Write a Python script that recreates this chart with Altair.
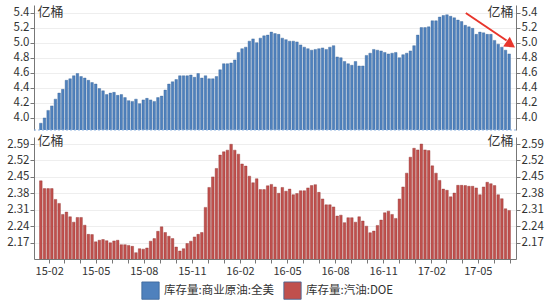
import altair as alt
import pandas as pd

# ---- data, weekly from 2015-01-16 ----
crude = [3.93, 4.00, 4.10, 4.16, 4.25, 4.33, 4.38, 4.50, 4.52, 4.56, 4.59, 4.55, 4.53, 4.50, 4.47, 4.45,
         4.39, 4.36, 4.31, 4.33, 4.34, 4.30, 4.31, 4.27, 4.23, 4.22, 4.25, 4.19, 4.24, 4.26, 4.24, 4.22,
         4.27, 4.29, 4.37, 4.45, 4.48, 4.51, 4.56, 4.56, 4.56, 4.57, 4.54, 4.59, 4.53, 4.56, 4.52, 4.52,
         4.55, 4.64, 4.72, 4.72, 4.73, 4.77, 4.87, 4.92, 4.94, 5.02, 5.05, 5.00, 5.06, 5.09, 5.10, 5.14,
         5.12, 5.11, 5.06, 5.04, 5.02, 5.02, 5.01, 4.97, 4.94, 4.92, 4.90, 4.91, 4.92, 4.93, 4.91, 4.94,
         4.96, 4.81, 4.80, 4.75, 4.72, 4.70, 4.75, 4.69, 4.69, 4.83, 4.86, 4.91, 4.90, 4.89, 4.87, 4.85,
         4.86, 4.87, 4.80, 4.84, 4.86, 4.89, 4.96, 5.10, 5.20, 5.20, 5.21, 5.29, 5.29, 5.34, 5.36, 5.37,
         5.35, 5.33, 5.30, 5.28, 5.23, 5.21, 5.19, 5.11, 5.14, 5.13, 5.11, 5.11, 5.03, 4.98, 4.94, 4.90,
         4.85]
gasoline = [2.433, 2.400, 2.400, 2.400, 2.354, 2.337, 2.290, 2.300, 2.280, 2.257,
            2.277, 2.277, 2.244, 2.205, 2.204, 2.173, 2.180, 2.183, 2.178, 2.169,
            2.177, 2.180, 2.161, 2.161, 2.158, 2.154, 2.127, 2.144, 2.142, 2.147,
            2.176, 2.187, 2.218, 2.237, 2.213, 2.197, 2.187, 2.151, 2.134, 2.144,
            2.166, 2.176, 2.194, 2.205, 2.213, 2.320, 2.405, 2.450, 2.486, 2.543,
            2.557, 2.564, 2.589, 2.564, 2.547, 2.505, 2.496, 2.453, 2.425, 2.442,
            2.396, 2.396, 2.412, 2.418, 2.407, 2.380, 2.405, 2.389, 2.398, 2.374,
            2.379, 2.391, 2.391, 2.403, 2.413, 2.417, 2.384, 2.356, 2.331, 2.331,
            2.322, 2.283, 2.287, 2.255, 2.276, 2.276, 2.257, 2.280, 2.262, 2.240,
            2.212, 2.219, 2.243, 2.266, 2.297, 2.304, 2.290, 2.273, 2.356, 2.407,
            2.466, 2.534, 2.572, 2.565, 2.590, 2.565, 2.562, 2.497, 2.466, 2.435,
            2.398, 2.393, 2.365, 2.381, 2.414, 2.414, 2.413, 2.410, 2.410, 2.403,
            2.374, 2.407, 2.427, 2.421, 2.413, 2.374, 2.357, 2.314, 2.307]

series_names = ["库存量:商业原油:全美", "库存量:汽油:DOE"]
series_colors = ["#4f81bd", "#c0504d"]
first_week = "2015-01-16"

top_ticks = [4.0, 4.2, 4.4, 4.6, 4.8, 5.0, 5.2, 5.4]
bottom_ticks = [2.17, 2.24, 2.31, 2.38, 2.45, 2.52, 2.59]
sep_level = [3.84]

arrow_x = ["2017-04-08", "2017-06-25"]
arrow_y = [5.394, 5.029]
arrow_head_x = ["2017-07-03"]
arrow_head_y = [4.975]

# ---- tables ----
df_top = pd.DataFrame({
    "date": pd.date_range(first_week, periods=len(crude), freq="7D").strftime("%Y-%m-%d"),
    "value": crude, "series": series_names[0]})
df_bot = pd.DataFrame({
    "date": pd.date_range(first_week, periods=len(gasoline), freq="7D").strftime("%Y-%m-%d"),
    "value": gasoline, "series": series_names[1]})
df_arrow = pd.DataFrame({"date": arrow_x, "value": arrow_y})
df_head = pd.DataFrame({"date": arrow_head_x, "value": arrow_head_y})
df_sep = pd.DataFrame({"value": sep_level})

FONT = "Noto Sans CJK SC"
x_domain = [alt.DateTime(year=2015, month=1, date=12, hours=12),
            alt.DateTime(year=2017, month=7, date=3, hours=12)]
month_ticks = []
for y in (2015, 2016, 2017):
    for m in range(1, 13):
        if (2015, 2) <= (y, m) <= (2017, 7):
            month_ticks.append(alt.DateTime(year=y, month=m, date=1))

xscale = alt.Scale(domain=x_domain)
color_scale = alt.Scale(domain=series_names, range=series_colors)
W = 482

x_axis = alt.Axis(values=month_ticks,
                  labelExpr="month(datum.value) % 3 == 1 ? timeFormat(datum.value, '%y-%m') : ''",
                  grid=False, domainColor="#777777", tickColor="#777777", tickSize=4,
                  labelFont=FONT, labelFontSize=11, labelColor="#333333", title=None,
                  labelOverlap=False, labelFlush=False, labelAlign="center", labelPadding=2)


def yaxis(orient, ticks, fmt, grid, title_y):
    return alt.Axis(orient=orient, values=ticks, format=fmt, grid=grid, gridColor="#eeeeee",
                    domainColor="#777777", tickColor="#777777", tickSize=4,
                    labelFont=FONT, labelFontSize=11.5, labelColor="#333333", labelPadding=1,
                    labelOverlap=False, labelBaseline="middle",
                    title="亿桶", titleAngle=0, titleFont=FONT, titleFontSize=13,
                    titleFontWeight="normal", titleColor="#333333",
                    titleX=3 if orient == "left" else -3, titleY=title_y,
                    titleAlign="left" if orient == "left" else "right", titleBaseline="middle")


def panel(df, domain, ticks, fmt, stroke, title_y, show_x):
    xa = x_axis if show_x else None
    yscale = alt.Scale(domain=domain, nice=False, zero=False)
    left_axis = yaxis("left", ticks, fmt, True, title_y)
    bars = alt.Chart(df).mark_bar(size=2.6, stroke=stroke, strokeWidth=0.4, clip=True).encode(
        x=alt.X("date:T", scale=xscale, axis=xa),
        y=alt.Y("value:Q", scale=yscale, axis=left_axis),
        color=alt.Color("series:N", scale=color_scale,
                        legend=alt.Legend(title=None, orient="none", direction="horizontal",
                                          legendX=105, legendY=274)),
    )
    right = alt.Chart(df).mark_bar(size=2.6, opacity=0, clip=True).encode(
        x=alt.X("date:T", scale=xscale, axis=xa),
        y=alt.Y("value:Q", scale=yscale, axis=yaxis("right", ticks, fmt, False, title_y)),
    )
    return bars, right, yscale, left_axis


top_bars, top_right, top_scale, top_axis = panel(df_top, [3.84, 5.5], top_ticks, ".1f", "#3a6497", 6, False)
sep = alt.Chart(df_sep).mark_rule(color="#8db3e2", strokeDash=[2, 2], strokeWidth=1).encode(
    y=alt.Y("value:Q", scale=top_scale, axis=top_axis))
arrow_line = alt.Chart(df_arrow).mark_line(color="#e8352b", strokeWidth=2).encode(
    x=alt.X("date:T", scale=xscale, axis=None), y=alt.Y("value:Q", scale=top_scale, axis=top_axis))
arrow_head = alt.Chart(df_head).mark_point(shape="triangle-up", filled=True, color="#e8352b",
                                           size=140, angle=124, opacity=1).encode(
    x=alt.X("date:T", scale=xscale, axis=None), y=alt.Y("value:Q", scale=top_scale, axis=top_axis))

top = alt.layer(alt.layer(top_bars, sep, arrow_line, arrow_head), top_right).resolve_scale(
    y="independent").properties(width=W, height=125)

bot_bars, bot_right, _, _ = panel(df_bot, [2.10, 2.62], bottom_ticks, ".2f", "#8f3331", 3, True)
bottom = alt.layer(bot_bars, bot_right).resolve_scale(y="independent").properties(width=W, height=122)

chart = alt.vconcat(top, bottom, spacing=3).properties(
    padding={"left": 6, "right": 6, "top": 5, "bottom": 4}
).configure_view(strokeWidth=0).configure_legend(
    symbolType="square", symbolSize=300, symbolStrokeWidth=0.8, labelFont=FONT, labelFontSize=11.5,
    labelColor="#333333", columnPadding=8, symbolOffset=0, padding=2
).resolve_scale(x="shared")

chart.save("out.html", embed_options={"renderer": "svg", "actions": False})
